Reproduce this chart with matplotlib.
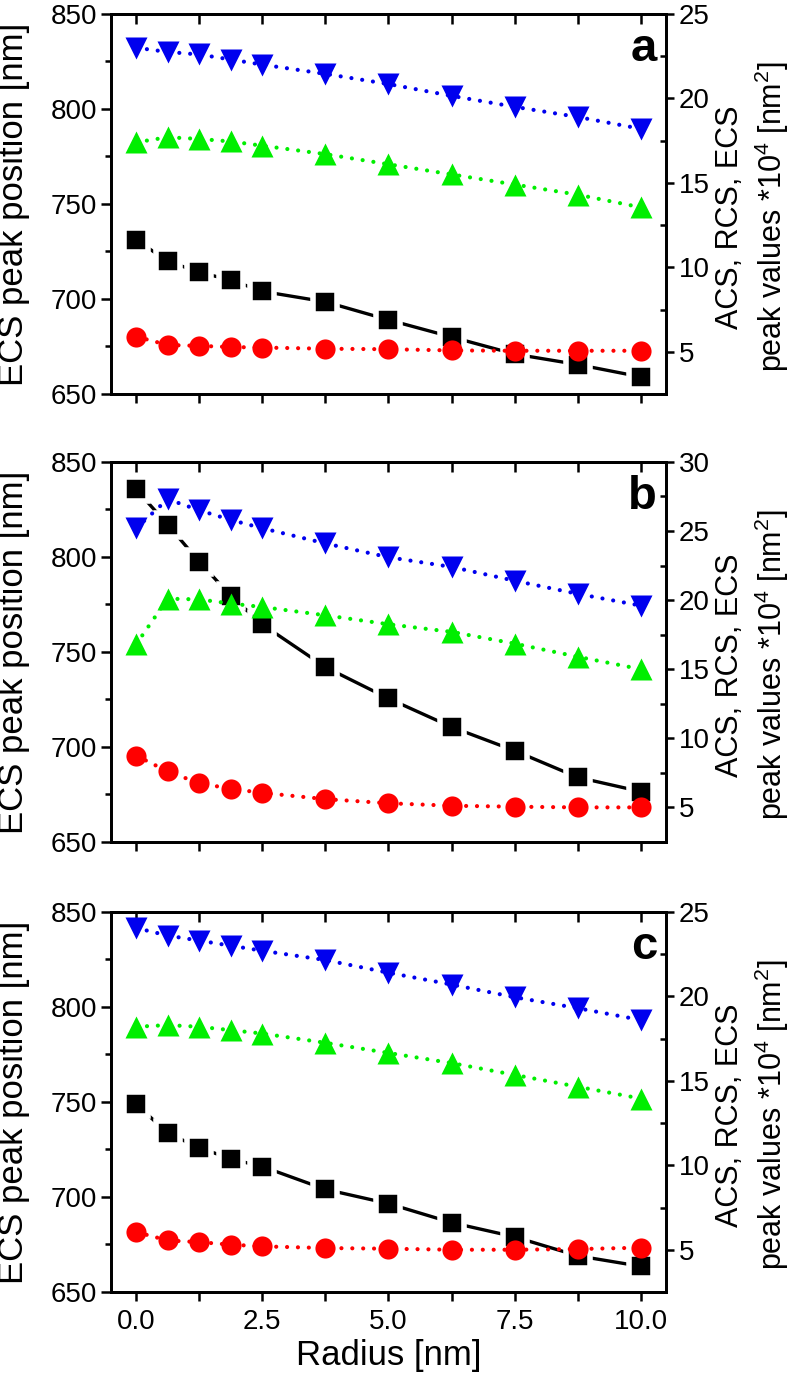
import matplotlib
matplotlib.use("Agg")
import matplotlib.pyplot as plt
from matplotlib.ticker import MultipleLocator, FormatStrFormatter

plt.rcParams["font.family"] = ["Liberation Sans", "DejaVu Sans"]
plt.rcParams["mathtext.fontset"] = "custom"
plt.rcParams["mathtext.rm"] = "Liberation Sans"
plt.rcParams["mathtext.it"] = "Liberation Sans:italic"
plt.rcParams["mathtext.bf"] = "Liberation Sans:bold"

# radius of the shell [nm]
radius = [0.0, 0.625, 1.25, 1.875, 2.5, 3.75, 5.0, 6.25, 7.5, 8.75, 10.0]

# panel a
pos_a = [731, 720, 714, 710, 704, 698.5, 689, 680, 671, 665.5, 659]
ext_a = [23.0, 22.75, 22.6, 22.3, 22.0, 21.45, 20.85, 20.15, 19.5, 18.9, 18.2]
abs_a = [17.4, 17.7, 17.6, 17.45, 17.2, 16.7, 16.1, 15.5, 14.9, 14.3, 13.55]
sca_a = [5.9, 5.4, 5.35, 5.28, 5.25, 5.18, 5.15, 5.08, 5.06, 5.06, 5.06]

# panel b
pos_b = [835.5, 817, 797.5, 779.5, 764.5, 742, 725.5, 710.5, 698, 684, 676.5]
ext_b = [25.2, 27.3, 26.5, 25.8, 25.2, 24.1, 23.1, 22.4, 21.4, 20.45, 19.6]
abs_b = [16.8, 20.1, 20.05, 19.75, 19.5, 18.9, 18.25, 17.7, 16.85, 15.9, 15.0]
sca_b = [8.75, 7.6, 6.75, 6.35, 6.05, 5.6, 5.3, 5.12, 5.05, 5.0, 5.0]

# panel c
pos_c = [749, 733.5, 726, 720, 716, 704, 696.5, 686.5, 679, 669, 663.5]
ext_c = [24.05, 23.6, 23.3, 23.0, 22.7, 22.15, 21.4, 20.7, 19.95, 19.3, 18.6]
abs_c = [18.2, 18.3, 18.2, 18.0, 17.8, 17.25, 16.65, 16.05, 15.35, 14.65, 13.95]
sca_c = [6.05, 5.55, 5.45, 5.3, 5.2, 5.1, 5.06, 5.0, 5.0, 5.04, 5.12]

panel_names = ["a", "b", "c"]
right_limits = [(2.5, 25), (2.5, 30), (2.5, 25)]
panels = [
    (pos_a, ext_a, abs_a, sca_a),
    (pos_b, ext_b, abs_b, sca_b),
    (pos_c, ext_c, abs_c, sca_c),
]

fig = plt.figure(figsize=(7.92, 13.8), dpi=100)
bottoms = [0.7145, 0.3899, 0.0638]

dotted = (0, (0.01, 2.6))
tick_fs = 20

for i, (name, (pos, ext, absv, sca), rlim) in enumerate(zip(panel_names, panels, right_limits)):
    ax = fig.add_axes([0.140, bottoms[i], 0.701, 0.2754])
    ax2 = ax.twinx()

    # solid line with a white halo round the squares, like Origin's gap-to-symbol
    ax.plot(radius, pos, color="black", lw=2.4, marker="s", ms=17,
            mfc="black", mec="white", mew=4, solid_capstyle="butt")

    ax2.plot(radius, ext, color="#0000ee", lw=3.0, ls=dotted, dash_capstyle="round",
             marker="v", ms=16, mec="none")
    ax2.plot(radius, absv, color="#00ee00", lw=3.0, ls=dotted, dash_capstyle="round",
             marker="^", ms=16, mec="none")
    ax2.plot(radius, sca, color="#ff0000", lw=3.0, ls=dotted, dash_capstyle="round",
             marker="o", ms=14.5, mec="none")

    ax.set_xlim(-0.5, 10.5)
    ax.set_ylim(650, 850)
    ax2.set_ylim(*rlim)

    ax.xaxis.set_major_locator(MultipleLocator(2.5))
    ax.xaxis.set_minor_locator(MultipleLocator(1.25))
    ax.yaxis.set_major_locator(MultipleLocator(50))
    ax.yaxis.set_minor_locator(MultipleLocator(25))
    ax2.yaxis.set_major_locator(MultipleLocator(5))
    ax2.yaxis.set_minor_locator(MultipleLocator(2.5))

    ax.tick_params(axis="x", which="both", direction="out", length=6.5, width=1.8,
                   top=False, labelsize=tick_fs, pad=6)
    ax.tick_params(axis="y", which="major", direction="out", length=7, width=1.8,
                   right=False, labelsize=tick_fs, pad=3)
    ax.tick_params(axis="y", which="minor", direction="out", length=4, width=1.8, right=False)
    ax2.tick_params(axis="y", which="major", direction="out", length=6, width=1.8,
                    labelsize=tick_fs, pad=3)
    ax2.tick_params(axis="y", which="minor", direction="in", length=4.5, width=1.8)

    top = ax.secondary_xaxis("top")
    top.xaxis.set_major_locator(MultipleLocator(1.25))
    top.tick_params(direction="in", length=7, width=1.8, labeltop=False)
    top.spines["top"].set_linewidth(2)

    for a in (ax, ax2):
        for s in a.spines.values():
            s.set_linewidth(2)

    if i < 2:
        ax.tick_params(axis="x", labelbottom=False)
    else:
        ax.xaxis.set_major_formatter(FormatStrFormatter("%.1f"))
        ax.set_xlabel("Radius [nm]", fontsize=25)
        ax.xaxis.set_label_coords(0.5, -0.125)

    ax.set_ylabel("ECS peak position [nm]", fontsize=25)
    ax.yaxis.set_label_coords(-0.145, 0.5)
    ax2.set_ylabel("ACS, RCS, ECS\npeak values *10$^4$ [nm$^2$]", fontsize=22, linespacing=1.25)
    ax2.yaxis.set_label_coords(1.088, 0.466)

    ax2.text(0.984, 0.877, name, transform=ax2.transAxes, ha="right", va="baseline",
             fontsize=34, fontweight="bold")

fig.savefig("out.png", dpi=100, facecolor="white")
